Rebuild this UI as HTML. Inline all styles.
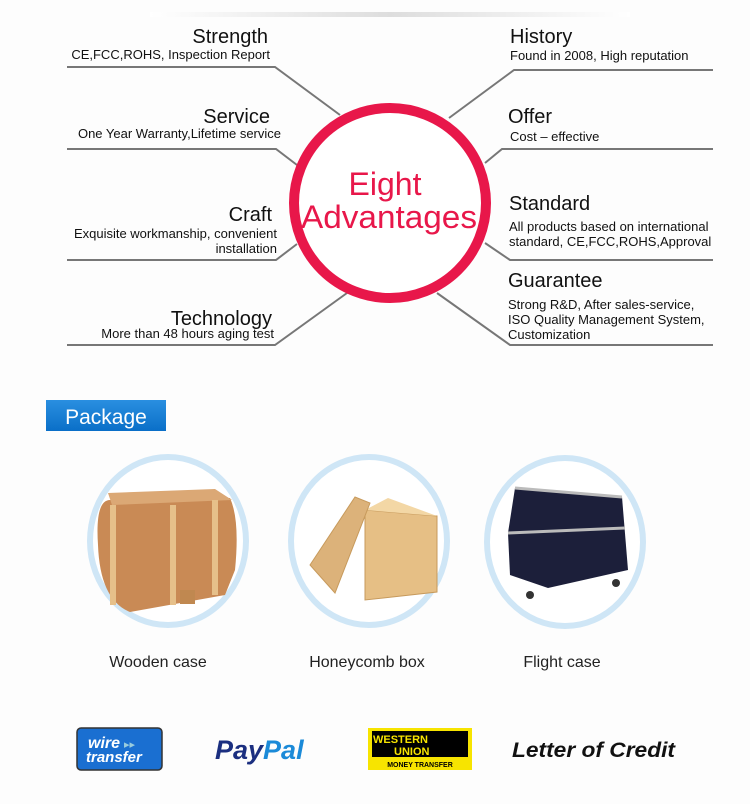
<!DOCTYPE html>
<html><head><style>body{margin:0;background:#fdfdfd;width:750px;height:799px;overflow:hidden}</style></head><body>
<svg width="750" height="799" viewBox="0 0 750 799" xmlns="http://www.w3.org/2000/svg" font-family="Liberation Sans, sans-serif">
<defs><linearGradient id="tb" x1="0" x2="1"><stop offset="0" stop-color="#fff"/><stop offset=".5" stop-color="#ddd"/><stop offset="1" stop-color="#fff"/></linearGradient>
<linearGradient id="bl" x1="0" y1="0" x2="0" y2="1"><stop offset="0" stop-color="#2a8fe0"/><stop offset="1" stop-color="#0a6fc8"/></linearGradient></defs>
<rect x="150" y="12" width="480" height="5" fill="url(#tb)"/>
<g stroke="#777" stroke-width="2" fill="none">
<polyline points="67,67 275,67 340,115"/>
<polyline points="67,149 276,149 297,165"/>
<polyline points="67,260 276,260 297,244"/>
<polyline points="67,345 275,345 347,293"/>
<polyline points="713,70 514,70 449,118"/>
<polyline points="713,149 502,149 485,163"/>
<polyline points="713,260 510,260 485,243"/>
<polyline points="713,345 510,345 437,293"/>
</g>
<ellipse cx="390" cy="203" rx="96" ry="95" fill="#fff" stroke="#e8174a" stroke-width="10"/>
<text x="385" y="195" font-size="32" fill="#e8174a" text-anchor="middle">Eight</text>
<text x="389" y="228" font-size="32" fill="#e8174a" text-anchor="middle" textLength="176" lengthAdjust="spacingAndGlyphs">Advantages</text>
<g fill="#111" text-anchor="end">
<text x="268" y="43" font-size="20">Strength</text>
<text x="270" y="59" font-size="13">CE,FCC,ROHS, Inspection Report</text>
<text x="270" y="123" font-size="20">Service</text>
<text x="281" y="138" font-size="13">One Year Warranty,Lifetime service</text>
<text x="272" y="221" font-size="20">Craft</text>
<text x="277" y="238" font-size="13">Exquisite workmanship, convenient</text>
<text x="277" y="253" font-size="13">installation</text>
<text x="272" y="325" font-size="20">Technology</text>
<text x="274" y="338" font-size="13">More than 48 hours aging test</text>
</g>
<g fill="#111">
<text x="510" y="43" font-size="20">History</text>
<text x="510" y="60" font-size="13">Found in 2008, High reputation</text>
<text x="508" y="123" font-size="20">Offer</text>
<text x="510" y="141" font-size="13">Cost – effective</text>
<text x="509" y="210" font-size="20">Standard</text>
<text x="509" y="231" font-size="13">All products based on international</text>
<text x="509" y="246" font-size="13">standard, CE,FCC,ROHS,Approval</text>
<text x="508" y="287" font-size="20">Guarantee</text>
<text x="508" y="309" font-size="13">Strong R&amp;D, After sales-service,</text>
<text x="508" y="324" font-size="13">ISO Quality Management System,</text>
<text x="508" y="339" font-size="13">Customization</text>
</g>
<rect x="46" y="400" width="120" height="31" fill="url(#bl)"/>
<text x="106" y="424" font-size="21" fill="#fff" text-anchor="middle">Package</text>
<g fill="#fff" stroke="#cfe6f6" stroke-width="6">
<ellipse cx="168" cy="541" rx="78" ry="84"/>
<ellipse cx="369" cy="541" rx="78" ry="84"/>
<ellipse cx="565" cy="542" rx="78" ry="84"/>
</g>
<path d="M98,545 Q95,500 110,500 L230,498 Q240,520 235,570 L225,595 L130,612 Q100,600 98,545Z" fill="#c98a55"/>
<path d="M108,493 L215,489 L232,500 L112,505Z" fill="#dba875"/>
<rect x="170" y="505" width="6" height="100" fill="#e6c08a"/><rect x="212" y="500" width="6" height="95" fill="#e6c08a"/><rect x="110" y="505" width="6" height="100" fill="#e6c08a"/>
<rect x="180" y="590" width="15" height="14" fill="#c08850"/>
<path d="M365,510 L437,516 L437,592 L365,600Z" fill="#e6bf85" stroke="#c79a5c"/>
<path d="M365,510 L388,498 L437,516Z" fill="#f3d7a5"/>
<path d="M310,565 L355,497 L370,503 L335,593Z" fill="#dcb27a" stroke="#c79a5c"/>
<path d="M508,533 L515,488 L622,497 L628,570 L548,588 L510,575Z" fill="#1c1f3a"/>
<path d="M508,533 L625,528" stroke="#bbb" stroke-width="3"/>
<path d="M515,488 L622,497" stroke="#bbb" stroke-width="3"/>
<circle cx="530" cy="595" r="4" fill="#333"/><circle cx="616" cy="583" r="4" fill="#333"/>
<g fill="#222" font-size="16" text-anchor="middle">
<text x="158" y="667">Wooden case</text>
<text x="367" y="667">Honeycomb box</text>
<text x="562" y="667">Flight case</text>
</g>
<rect x="77" y="728" width="85" height="42" rx="4" fill="#1a6fd1" stroke="#333" stroke-width="1.5"/>
<text x="88" y="748" font-size="16" font-weight="bold" font-style="italic" fill="#fff">wire</text>
<text x="124" y="748" font-size="11" fill="#9cd">▸▸</text>
<text x="86" y="762" font-size="15" font-weight="bold" font-style="italic" fill="#fff">transfer</text>
<text x="215" y="759" font-size="27" font-weight="bold" font-style="italic" fill="#1b2f80">Pay<tspan fill="#1b8ad8">Pal</tspan></text>
<rect x="368" y="728" width="104" height="42" fill="#f7e400"/>
<rect x="372" y="731" width="96" height="26" fill="#000"/>
<text x="373" y="743" font-size="11" font-weight="bold" fill="#f7e400">WESTERN</text>
<text x="394" y="755" font-size="11" font-weight="bold" fill="#f7e400">UNION</text>
<text x="420" y="767" font-size="7" font-weight="bold" fill="#000" text-anchor="middle">MONEY TRANSFER</text>
<text x="512" y="757" font-size="21" font-weight="bold" font-style="italic" fill="#111" textLength="163" lengthAdjust="spacingAndGlyphs">Letter of Credit</text>
</svg>
</body></html>
